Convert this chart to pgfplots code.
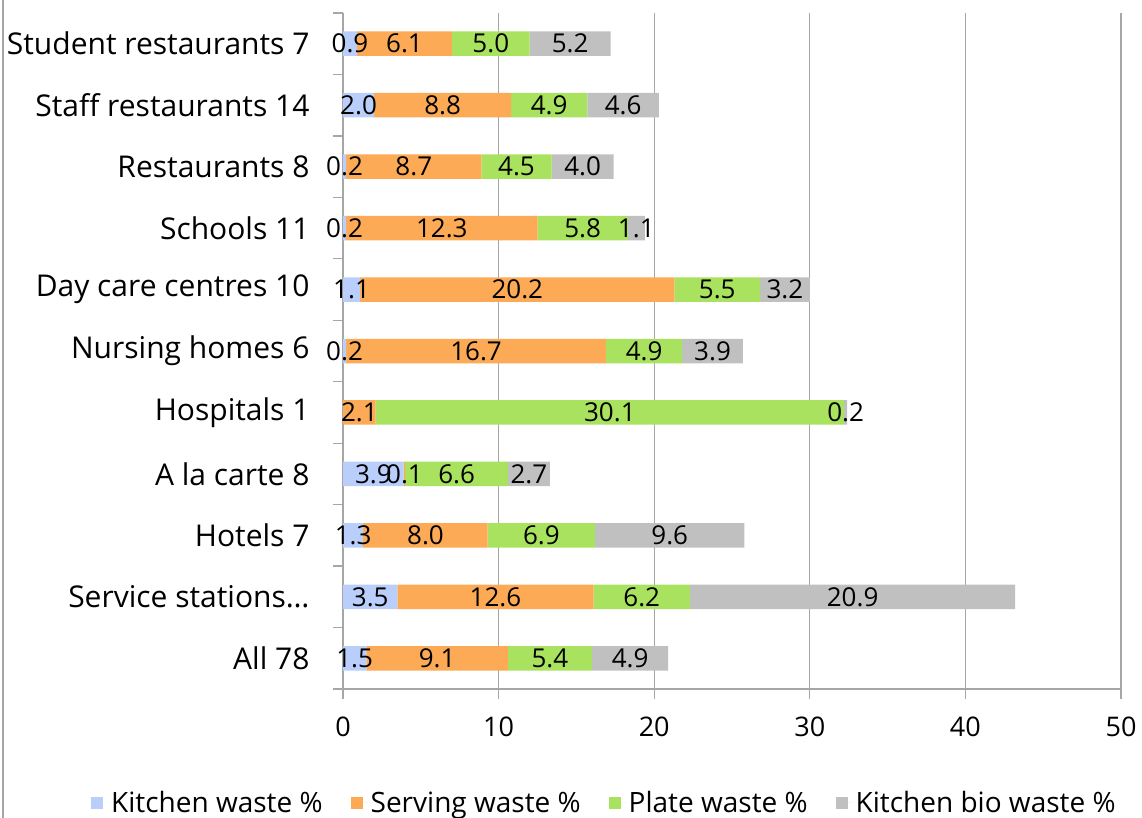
\documentclass[border=0pt]{standalone}
\usepackage{fontspec}
\setmainfont{Open Sans}
\usepackage{pgfplots}
\usepackage{pgfplotstable}
\pgfplotsset{compat=1.18}
\definecolor{cK}{HTML}{B9CEFA}
\definecolor{cS}{HTML}{FCAA55}
\definecolor{cP}{HTML}{A8E25E}
\definecolor{cB}{HTML}{C0C0C0}
\definecolor{gridgray}{HTML}{A6A6A6}

\pgfplotstableread{
idx kitchen serving plate bio
0 0.9 6.1 5.0 5.2
1 2.0 8.8 4.9 4.6
2 0.2 8.7 4.5 4.0
3 0.2 12.3 5.8 1.1
4 1.1 20.2 5.5 3.2
5 0.2 16.7 4.9 3.9
6 0 2.1 30.1 0.2
7 3.9 0.1 6.6 2.7
8 1.3 8.0 6.9 9.6
9 3.5 12.6 6.2 20.9
10 1.5 9.1 5.4 4.9
}\datatable

\pgfplotsset{
  seglabel/.style={
    nodes near coords={\ifdim\pgfplotspointmeta pt=0pt\else\pgfplotspointmeta\fi},
    point meta=explicit symbolic,
    every node near coord/.append style={anchor=center,
      font=\fontsize{26}{26}\selectfont, text=black, inner sep=0pt},
  }
}

\begin{document}
\begin{tikzpicture}
\path[use as bounding box] (0pt,0pt) rectangle (1142pt,818pt);
\draw[gridgray, line width=1.2pt] (3pt,0pt) -- (3pt,818pt);
\begin{axis}[
  at={(343pt,129pt)}, anchor=south west,
  scale only axis, width=778pt, height=676pt,
  xbar stacked, bar width=24.5pt,
  xmin=0, xmax=50, ymin=-0.5, ymax=10.5, y dir=reverse,
  enlarge x limits=false, enlarge y limits=false,
  xtick={0,10,...,50},
  ytick={-0.5,0.5,...,10.5}, yticklabels={},
  extra y ticks={0,...,10},
  extra y tick labels={Student restaurants 7, Staff restaurants 14, Restaurants 8, Schools 11, Day care centres 10, Nursing homes 6, Hospitals 1, A la carte 8, Hotels 7, Service stations…, All 78},
  extra y tick style={major tick length=0pt, yticklabel style={xshift=-30pt}},
  axis x line*=bottom, axis y line*=left,
  axis line style={-, color=gridgray, line width=1.2pt},
  xmajorgrids, major grid style={color=gridgray, line width=1.2pt},
  tick style={color=gridgray, line width=1.2pt},
  major tick length=10pt, tick align=outside,
  xticklabel style={font=\fontsize{27}{27}\selectfont, yshift=-14pt},
  yticklabel style={font=\fontsize{30}{30}\selectfont, text=black},
  /pgf/number format/assume math mode=true,
  legend style={at={(0.336,-0.1686)}, anchor=center, draw=none, fill=none,
    legend columns=4, font=\fontsize{28}{28}\selectfont,
    /tikz/every even column/.append style={column sep=26pt}},
  legend cell align=left,
  legend image code/.code={\fill[#1] (0pt,-6pt) rectangle (12pt,6pt); \path (0pt,0pt) -- (18pt,0pt);},
]
\addplot[fill=cK, draw=none, seglabel] table[x=kitchen, y=idx, meta=kitchen]{\datatable};
\addplot[fill=cS, draw=none, seglabel] table[x=serving, y=idx, meta=serving]{\datatable};
\addplot[fill=cP, draw=none, seglabel] table[x=plate, y=idx, meta=plate]{\datatable};
\addplot[fill=cB, draw=none, seglabel] table[x=bio, y=idx, meta=bio]{\datatable};
\legend{Kitchen waste \%, Serving waste \%, Plate waste \%, Kitchen bio waste \%}
\end{axis}
\end{tikzpicture}
\end{document}
